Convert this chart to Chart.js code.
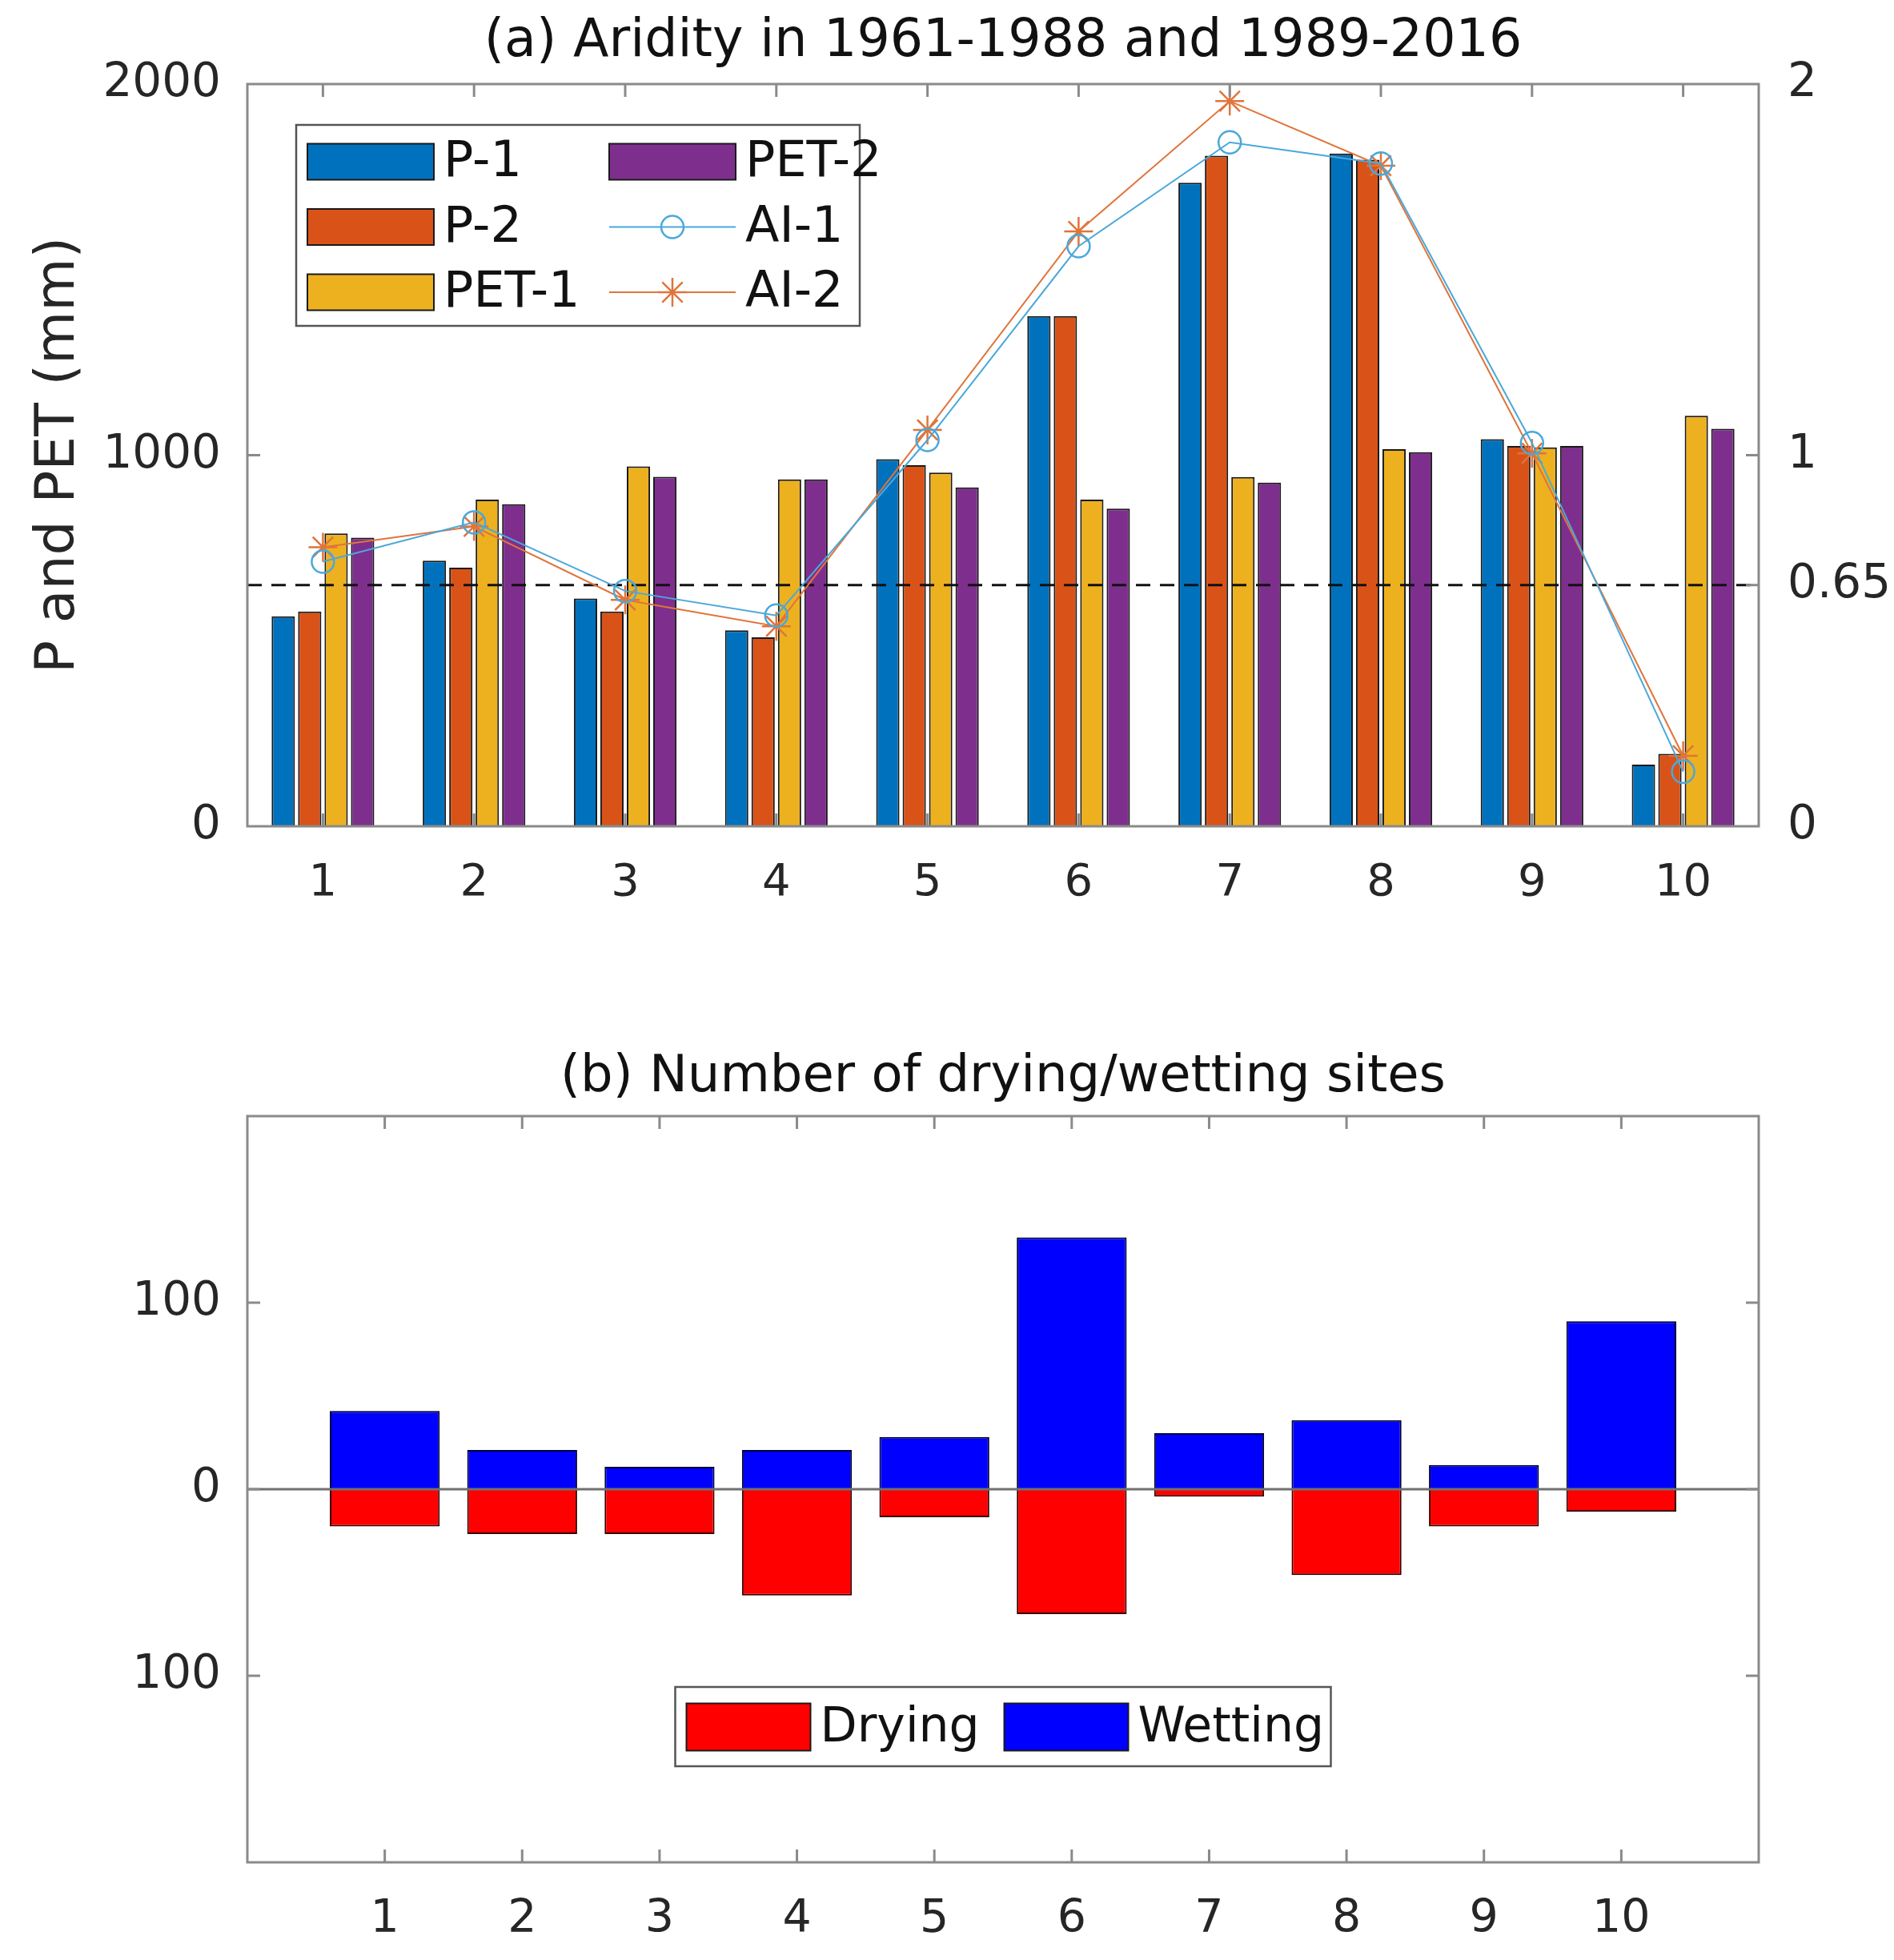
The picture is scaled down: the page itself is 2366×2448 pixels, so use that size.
<!DOCTYPE html>
<html>
<head>
<meta charset="utf-8">
<script src="https://cdn.jsdelivr.net/npm/chart.js@4.4.1/dist/chart.umd.min.js"></script>
<style>
    html, body { margin: 0; padding: 0; background: #fff; }
    #wrap { position: relative; width: 2366px; height: 2448px; }
    canvas { position: absolute; left: 0; }
    #aridity-chart { top: 0; }
    #sites-chart { top: 1250px; }
</style>
</head>
<body>
<div id="wrap">
    <canvas id="aridity-chart" width="2366" height="1150"></canvas>
    <canvas id="sites-chart" width="2366" height="1198"></canvas>
</div>
<script>
// panel (a): precipitation, PET and aridity index per site
const sites = ['1', '2', '3', '4', '5', '6', '7', '8', '9', '10'];
const p1 = [566, 716, 614, 528, 989, 1375, 1734, 1813, 1043, 166];
const p2 = [579, 697, 579, 509, 973, 1375, 1807, 1796, 1025, 195];
const pet1 = [789, 880, 970, 935, 953, 880, 941, 1016, 1021, 1106];
const pet2 = [778, 868, 942, 935, 913, 856, 926, 1008, 1025, 1071];
const ai1 = [0.713, 0.819, 0.634, 0.568, 1.041, 1.563, 1.843, 1.786, 1.033, 0.147];
const ai2 = [0.752, 0.808, 0.610, 0.539, 1.068, 1.603, 1.954, 1.780, 1.005, 0.190];
const aiThreshold = 0.65;
const leftTicksA = [0, 1000, 2000];
const rightTicksA = [0, 0.65, 1, 2];

// panel (b): number of drying / wetting sites
const siteNums = [1, 2, 3, 4, 5, 6, 7, 8, 9, 10];
const drying = [-20, -24, -24, -57, -15, -67, -4, -46, -20, -12];
const wetting = [42, 21, 12, 21, 28, 135, 30, 37, 13, 90];
const ticksB = [-100, 0, 100];

const FONT = "'DejaVu Sans', 'Liberation Sans', Arial, sans-serif";
const TICK_COLOR = '#262626';
const FRAME_COLOR = '#8a8a8a';

// MATLAB-like box, inward ticks, reference lines and panel title
const axesFrame = {
    id: 'axesFrame',
    afterDatasetDraw(chart, args, o) {
        if (args.index !== o.hlineAfter) return;
        const { ctx, chartArea: a } = chart;
        (o.hlines || []).forEach(h => {
            const py = chart.scales[h.axis].getPixelForValue(h.value);
            const x1 = h.toIndex != null ? chart.scales.x.getPixelForValue(h.toIndex) : a.right;
            ctx.save();
            ctx.strokeStyle = h.color;
            ctx.lineWidth = h.width;
            ctx.setLineDash(h.dash || []);
            ctx.beginPath();
            ctx.moveTo(a.left, py);
            ctx.lineTo(x1, py);
            ctx.stroke();
            ctx.restore();
        });
    },
    afterDraw(chart, args, o) {
        const { ctx, chartArea: a } = chart;
        ctx.save();
        ctx.strokeStyle = FRAME_COLOR;
        ctx.lineWidth = 3;
        ctx.strokeRect(a.left, a.top, a.right - a.left, a.bottom - a.top);
        const L = 16;
        const seg = (x1, y1, x2, y2) => {
            ctx.beginPath();
            ctx.moveTo(x1, y1);
            ctx.lineTo(x2, y2);
            ctx.stroke();
        };
        Object.values(chart.scales).forEach(s => {
            s.ticks.forEach((t, i) => {
                const p = s.getPixelForTick(i);
                if (s.isHorizontal()) {
                    if (p <= a.left + 2 || p >= a.right - 2) return;
                    seg(p, a.bottom, p, a.bottom - L);
                    seg(p, a.top, p, a.top + L);
                } else {
                    if (p <= a.top + 2 || p >= a.bottom - 2) return;
                    if (s.position === 'left' || o.mirrorY) seg(a.left, p, a.left + L, p);
                    if (s.position === 'right' || o.mirrorY) seg(a.right, p, a.right - L, p);
                }
            });
        });
        ctx.fillStyle = '#111';
        ctx.font = o.titleFont;
        ctx.textAlign = 'center';
        ctx.textBaseline = 'middle';
        ctx.fillText(o.title, (a.left + a.right) / 2, o.titleY);
        ctx.restore();
    }
};

// boxed legend drawn inside the plot area, filled column by column
const boxLegend = {
    id: 'boxLegend',
    afterDraw(chart, args, o) {
        const { ctx, chartArea: a } = chart;
        const left = o.centerX ? (a.left + a.right) / 2 - o.width / 2 : a.left + o.left;
        const top = a.top + o.top;
        ctx.save();
        ctx.fillStyle = '#fff';
        ctx.fillRect(left, top, o.width, o.height);
        ctx.strokeStyle = '#555';
        ctx.lineWidth = 2.5;
        ctx.strokeRect(left, top, o.width, o.height);
        ctx.font = o.font;
        ctx.textBaseline = 'middle';
        ctx.textAlign = 'left';
        chart.data.datasets.forEach((ds, i) => {
            const col = Math.floor(i / o.rows);
            const row = i % o.rows;
            const x = left + o.padX + col * o.colWidth;
            const y = top + o.firstRow + row * o.rowHeight;
            if (ds.type === 'line') {
                const cx = x + o.swatchW / 2;
                const r = ds.pointRadius;
                ctx.strokeStyle = ds.borderColor;
                ctx.lineWidth = ds.borderWidth;
                ctx.beginPath();
                ctx.moveTo(x, y);
                ctx.lineTo(x + o.swatchW, y);
                ctx.stroke();
                ctx.lineWidth = ds.pointBorderWidth;
                ctx.beginPath();
                if (ds.pointStyle === 'circle') {
                    ctx.arc(cx, y, r, 0, Math.PI * 2);
                } else {
                    for (let k = 0; k < 4; k++) {
                        const ang = k * Math.PI / 4;
                        ctx.moveTo(cx - r * Math.cos(ang), y - r * Math.sin(ang));
                        ctx.lineTo(cx + r * Math.cos(ang), y + r * Math.sin(ang));
                    }
                }
                ctx.stroke();
            } else {
                ctx.fillStyle = ds.backgroundColor;
                ctx.fillRect(x, y - o.swatchH / 2, o.swatchW, o.swatchH);
                ctx.strokeStyle = '#1a1a1a';
                ctx.lineWidth = 2;
                ctx.strokeRect(x, y - o.swatchH / 2, o.swatchW, o.swatchH);
            }
            ctx.fillStyle = '#111';
            ctx.fillText(ds.label, x + o.swatchW + o.textGap, y + 2);
        });
        ctx.restore();
    }
};

function barSet(label, data, color) {
    return {
        label: label,
        data: data,
        backgroundColor: color,
        borderColor: '#1a1a1a',
        borderWidth: 2,
        categoryPercentage: 0.7,
        barPercentage: 0.88,
        yAxisID: 'y',
        order: 1
    };
}

function lineSet(label, data, color, style, radius) {
    return {
        type: 'line',
        label: label,
        data: data,
        borderColor: color,
        borderWidth: 2,
        backgroundColor: 'rgba(0,0,0,0)',
        pointStyle: style,
        pointRadius: radius,
        pointBorderWidth: 2.5,
        pointBackgroundColor: 'rgba(0,0,0,0)',
        pointBorderColor: color,
        yAxisID: 'y2',
        order: 0
    };
}

new Chart(document.getElementById('aridity-chart'), {
    type: 'bar',
    data: {
        labels: sites,
        datasets: [
            barSet('P-1', p1, '#0072BD'),
            barSet('P-2', p2, '#D95319'),
            barSet('PET-1', pet1, '#EDB120'),
            barSet('PET-2', pet2, '#7E2F8E'),
            lineSet('AI-1', ai1, '#4AA8DA', 'circle', 14),
            lineSet('AI-2', ai2, '#E0743A', 'star', 18)
        ]
    },
    options: {
        responsive: false,
        animation: false,
        layout: { padding: { top: 105, left: 0, right: 0, bottom: 0 } },
        plugins: {
            legend: { display: false },
            tooltip: { enabled: false },
            axesFrame: {
                title: '(a) Aridity in 1961-1988 and 1989-2016',
                titleFont: '65px ' + FONT,
                titleY: 53,
                hlineAfter: 0,
                hlines: [
                    { axis: 'y2', value: aiThreshold, color: '#111', width: 3, dash: [18, 12] },
                    { axis: 'y', value: 0, toIndex: 7, color: '#222', width: 2, dash: [3, 5] }
                ]
            },
            boxLegend: {
                left: 61, top: 51, width: 704, height: 251,
                rows: 3, colWidth: 377, rowHeight: 81.5, firstRow: 46,
                padX: 14, swatchW: 158, swatchH: 45, textGap: 12,
                font: '62px ' + FONT
            }
        },
        scales: {
            x: {
                grid: { display: false },
                border: { display: false },
                ticks: { font: { size: 56, family: FONT }, color: TICK_COLOR, padding: 30 },
                afterFit: s => { s.height = 118; }
            },
            y: {
                position: 'left',
                min: 0,
                max: 2000,
                grid: { display: false },
                border: { display: false },
                afterBuildTicks: s => { s.ticks = leftTicksA.map(v => ({ value: v })); },
                ticks: {
                    font: { size: 58, family: FONT },
                    color: TICK_COLOR,
                    padding: 25,
                    callback: v => String(v)
                },
                title: {
                    display: true,
                    text: 'P and PET (mm)',
                    font: { size: 68, family: FONT },
                    color: TICK_COLOR,
                    padding: { top: 34, bottom: 0 }
                },
                afterFit: s => { s.width = 309; }
            },
            y2: {
                position: 'right',
                min: 0,
                max: 2,
                grid: { display: false },
                border: { display: false },
                afterBuildTicks: s => { s.ticks = rightTicksA.map(v => ({ value: v })); },
                ticks: {
                    font: { size: 58, family: FONT },
                    color: TICK_COLOR,
                    padding: 28,
                    callback: v => String(v)
                },
                afterFit: s => { s.width = 169; }
            }
        }
    },
    plugins: [axesFrame, boxLegend]
});

new Chart(document.getElementById('sites-chart'), {
    type: 'bar',
    data: {
        datasets: [
            {
                label: 'Drying',
                data: siteNums.map((x, i) => ({ x: x, y: drying[i] })),
                backgroundColor: '#FF0000',
                borderColor: '#3a0000',
                borderWidth: 2,
                grouped: false,
                categoryPercentage: 0.8,
                barPercentage: 1
            },
            {
                label: 'Wetting',
                data: siteNums.map((x, i) => ({ x: x, y: wetting[i] })),
                backgroundColor: '#0000FF',
                borderColor: '#00003a',
                borderWidth: 2,
                grouped: false,
                categoryPercentage: 0.8,
                barPercentage: 1
            }
        ]
    },
    options: {
        responsive: false,
        animation: false,
        layout: { padding: { top: 144, left: 0, right: 169, bottom: 0 } },
        plugins: {
            legend: { display: false },
            tooltip: { enabled: false },
            axesFrame: {
                title: '(b) Number of drying/wetting sites',
                titleFont: '64px ' + FONT,
                titleY: 96,
                mirrorY: true,
                hlineAfter: 0,
                hlines: [
                    { axis: 'y', value: 0, color: '#707070', width: 3 }
                ]
            },
            boxLegend: {
                centerX: true, top: 713, width: 819, height: 99,
                rows: 1, colWidth: 397, rowHeight: 0, firstRow: 50,
                padX: 14, swatchW: 155, swatchH: 59, textGap: 12,
                font: '60px ' + FONT
            }
        },
        scales: {
            x: {
                type: 'linear',
                min: 0,
                max: 11,
                offset: false,
                grid: { display: false, offset: false },
                border: { display: false },
                afterBuildTicks: s => { s.ticks = siteNums.map(v => ({ value: v })); },
                ticks: { font: { size: 57, family: FONT }, color: TICK_COLOR, padding: 30 },
                afterFit: s => { s.height = 122; }
            },
            y: {
                min: -200,
                max: 200,
                grid: { display: false },
                border: { display: false },
                afterBuildTicks: s => { s.ticks = ticksB.map(v => ({ value: v })); },
                ticks: {
                    font: { size: 58, family: FONT },
                    color: TICK_COLOR,
                    padding: 25,
                    callback: v => String(Math.abs(v))
                },
                afterFit: s => { s.width = 309; }
            }
        }
    },
    plugins: [axesFrame, boxLegend]
});
</script>
</body>
</html>
